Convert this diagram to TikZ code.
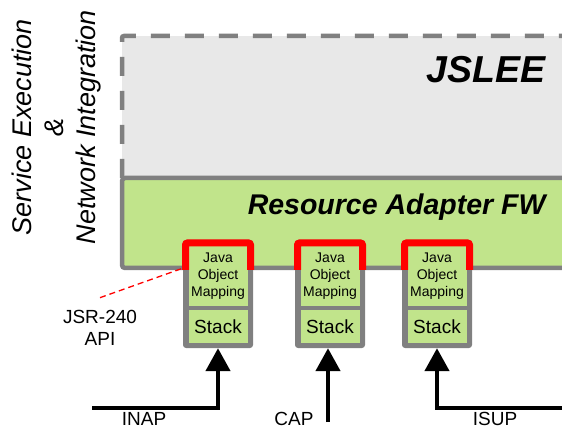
\documentclass[tikz,border=0pt]{standalone}
\usepackage{fontspec}
\setmainfont{Liberation Sans}
\usetikzlibrary{arrows.meta}
\definecolor{rafill}{RGB}{193,228,139}
\definecolor{sleefill}{RGB}{232,232,232}
\definecolor{edgegray}{RGB}{128,128,128}
\begin{document}
\begin{tikzpicture}[x=1pt,y=-1pt,
    inner/.style={fill=rafill,inner sep=0pt,minimum width=59pt,align=center},
    sig/.style={line width=4.5pt,-{Triangle[width=24pt,length=23pt]}},
    lbl/.style={font=\fontsize{19}{22}\selectfont,align=center,inner sep=0.5pt}]
  \useasboundingbox (0,0) rectangle (562,430);
  % the container, open to the right
  \fill[sleefill] (122,36) rectangle (590,178);
  \draw[edgegray,line width=4.5pt,dash pattern=on 19pt off 15pt,
        rounded corners=2pt] (122,178) -- (122,36) -- (590,36);
  \node[anchor=base east,font=\fontsize{37.5}{40}\selectfont\bfseries\itshape]
    (slee) at (549,83) {JSLEE};
  % resource adaptor framework
  \draw[edgegray,fill=rafill,line width=4.5pt,rounded corners=3pt]
    (122,178) rectangle (590,268);
  \node[anchor=base east,font=\fontsize{28.5}{32}\selectfont\bfseries\itshape]
    (rafw) at (549,215) {Resource Adapter FW};
  % one adaptor per protocol
  \foreach \x/\n in {218/a,330/b,437/c}{%
    \node[fill=edgegray,rounded corners=3pt,inner sep=0pt,
          minimum width=70pt,minimum height=108pt] (frame\n) at (\x,294) {};
    \node[inner,minimum height=60pt,font=\fontsize{14}{17}\selectfont]
      (jom\n) at (\x,276) {Java\\Object\\Mapping};
    \node[inner,minimum height=33pt,font=\fontsize{19}{22}\selectfont]
      (stack\n) at (\x,326.5) {Stack};
    % the API edge
    \draw[red,line width=7pt,rounded corners=2pt]
      ({\x-32.5},270) |- (\x,243) -| ({\x+32.5},270);
  }
  % incoming signalling
  \coordinate (inap) at (92,408);
  \coordinate (cap) at (328,422);
  \coordinate (isup) at (570,408);
  \draw[sig] (inap) -| (framea.south);
  \draw[sig] (cap) -- (cap |- frameb.south);
  \draw[sig] (isup) -| (framec.south);
  \node[lbl] (inaplbl) at (144,419) {INAP};
  \node[lbl] (caplbl) at (294,419) {CAP};
  \node[lbl] (isuplbl) at (495,419) {ISUP};
  % API label
  \node[lbl] (api) at (100,328) {JSR-240\\API};
  \draw[red,line width=1.3pt,dash pattern=on 6pt off 4pt]
    ([yshift=12pt]api.north) -- ([yshift=80pt]framea.south west);
  % side caption
  \node[rotate=90,align=center,font=\fontsize{27}{32}\selectfont\itshape]
    (domain) at (57,127) {Service Execution\\\&\\Network Integration};
\end{tikzpicture}
\end{document}
